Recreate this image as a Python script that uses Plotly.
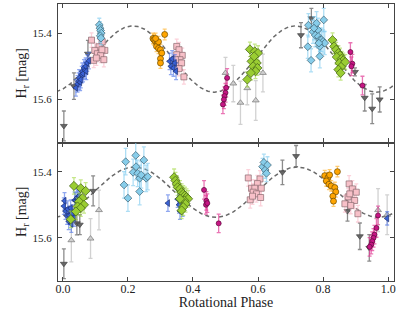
import plotly.graph_objects as go
from plotly.subplots import make_subplots
import numpy as np

# ---------------- data: top panel ----------------
t_blue_ph = [0.040, 0.045, 0.048, 0.050, 0.053, 0.055, 0.058, 0.060, 0.062, 0.065, 0.068, 0.070, 0.072, 0.075, 0.080,
             0.328, 0.332, 0.336, 0.340, 0.344, 0.348]
t_blue_m = [15.565, 15.553, 15.545, 15.535, 15.548, 15.540, 15.525, 15.515, 15.522, 15.505, 15.512, 15.500, 15.515, 15.490, 15.483,
            15.485, 15.500, 15.478, 15.505, 15.490, 15.515]
t_blue_e = [0.025] * 21

t_cyan_ph = [0.112, 0.114, 0.116, 0.118, 0.115, 0.117,
             0.755, 0.753, 0.763, 0.769, 0.776, 0.780, 0.784, 0.785, 0.790, 0.790, 0.790, 0.795, 0.800, 0.802, 0.805, 0.772, 0.787]
t_cyan_m = [15.375, 15.385, 15.392, 15.400, 15.408, 15.415,
            15.376, 15.441, 15.482, 15.396, 15.406, 15.370, 15.390, 15.410, 15.420, 15.440, 15.470, 15.420, 15.425, 15.360, 15.430, 15.385, 15.430]
t_cyan_e = [0.02] * 6 + [0.035] * 17

t_pink_ph = [0.088, 0.121, 0.111, 0.098, 0.129, 0.106, 0.116, 0.126, 0.095, 0.103, 0.120,
             0.350, 0.357, 0.367, 0.350, 0.360, 0.357, 0.365, 0.346, 0.357, 0.372]
t_pink_m = [15.421, 15.426, 15.441, 15.452, 15.452, 15.462, 15.467, 15.480, 15.482, 15.475, 15.450,
            15.440, 15.450, 15.467, 15.465, 15.480, 15.490, 15.490, 15.480, 15.507, 15.532]
t_pink_e = [0.022] * 21

t_orange_ph = [0.313, 0.277, 0.280, 0.285, 0.290, 0.288, 0.294, 0.300, 0.304, 0.300, 0.300, 0.294, 0.285]
t_orange_m = [15.404, 15.416, 15.420, 15.426, 15.430, 15.440, 15.446, 15.450, 15.460, 15.477, 15.490, 15.426, 15.416]
t_orange_e = [0.016] * 13

t_mag_ph = [0.505, 0.502, 0.500, 0.497, 0.495, 0.492, 0.884, 0.890, 0.887, 0.921]
t_mag_m = [15.535, 15.565, 15.580, 15.590, 15.600, 15.615, 15.457, 15.492, 15.500, 15.558]
t_mag_e = [0.028] * 10

t_green_ph = [0.575, 0.590, 0.600, 0.580, 0.596, 0.585, 0.598, 0.592, 0.578, 0.567, 0.588,
              0.829, 0.834, 0.840, 0.847, 0.852, 0.842, 0.857, 0.862, 0.850, 0.857, 0.847, 0.854, 0.868]
t_green_m = [15.449, 15.455, 15.460, 15.485, 15.490, 15.500, 15.505, 15.515, 15.520, 15.540, 15.470,
             15.421, 15.440, 15.450, 15.460, 15.467, 15.472, 15.477, 15.482, 15.490, 15.500, 15.510, 15.520, 15.487]
t_green_e = [0.022] * 24

t_gdown_ph = [0.003, 0.034, 0.077, 0.732, 0.764, 0.898, 0.928, 0.951, 0.974]
t_gdown_m = [15.680, 15.560, 15.462, 15.406, 15.355, 15.517, 15.595, 15.628, 15.600]
t_gdown_e = [0.045, 0.040, 0.040, 0.038, 0.030, 0.012, 0.040, 0.045, 0.038]

t_gup_ph = [0.500, 0.524, 0.546, 0.567, 0.593, 0.615]
t_gup_m = [15.520, 15.552, 15.610, 15.566, 15.603, 15.520]
t_gup_e = [0.047, 0.055, 0.065, 0.050, 0.060, 0.057]

# ---------------- data: bottom panel ----------------
b_blue_ph = [0.003, 0.005, 0.008, 0.013, 0.015, 0.018, 0.020, 0.024, 0.026, 0.029, 0.034, 0.036, 0.039, 0.044, 0.046, 0.049,
             0.323, 0.353, 0.357, 0.360, 0.364, 0.368, 0.997]
b_blue_m = [15.504, 15.488, 15.519, 15.534, 15.513, 15.550, 15.533, 15.510, 15.558, 15.525, 15.540, 15.486, 15.488, 15.478, 15.483, 15.473,
            15.495, 15.483, 15.500, 15.519, 15.490, 15.510, 15.541]
b_blue_e = [0.025] * 22 + [0.02]

b_cyan_ph = [0.193, 0.188, 0.200, 0.224, 0.216, 0.225, 0.230, 0.236, 0.241, 0.249, 0.256, 0.236, 0.261,
             0.614, 0.618, 0.622, 0.626, 0.629]
b_cyan_m = [15.370, 15.440, 15.480, 15.351, 15.402, 15.385, 15.405, 15.420, 15.410, 15.365, 15.420, 15.460, 15.415,
            15.385, 15.372, 15.395, 15.405, 15.380]
b_cyan_e = [0.04] * 13 + [0.025] * 5

b_pink_ph = [0.570, 0.606, 0.598, 0.580, 0.590, 0.610, 0.585, 0.595, 0.608, 0.576, 0.583,
             0.880, 0.890, 0.902, 0.877, 0.897, 0.867, 0.885, 0.907, 0.882]
b_pink_m = [15.419, 15.422, 15.436, 15.450, 15.450, 15.450, 15.462, 15.467, 15.478, 15.485, 15.474,
            15.437, 15.452, 15.462, 15.476, 15.487, 15.497, 15.502, 15.527, 15.467]
b_pink_e = [0.025] * 20

b_orange_ph = [0.844, 0.805, 0.815, 0.820, 0.810, 0.818, 0.825, 0.836, 0.839, 0.830, 0.832]
b_orange_m = [15.400, 15.412, 15.418, 15.410, 15.428, 15.438, 15.443, 15.448, 15.461, 15.474, 15.489]
b_orange_e = [0.016] * 11

b_mag_ph = [0.434, 0.441, 0.440, 0.444, 0.479, 0.969, 0.964, 0.958, 0.955, 0.951, 0.948, 0.943]
b_mag_m = [15.455, 15.488, 15.500, 15.495, 15.556, 15.532, 15.570, 15.590, 15.600, 15.610, 15.620, 15.627]
b_mag_e = [0.028] * 12

b_green_ph = [0.034, 0.055, 0.070, 0.060, 0.050, 0.065, 0.045, 0.055, 0.024, 0.040,
              0.342, 0.346, 0.350, 0.353, 0.360, 0.365, 0.370, 0.375, 0.380, 0.385, 0.373, 0.377, 0.370, 0.365, 0.360]
b_green_m = [15.443, 15.450, 15.458, 15.480, 15.490, 15.500, 15.505, 15.510, 15.544, 15.520,
             15.417, 15.427, 15.437, 15.447, 15.452, 15.462, 15.467, 15.472, 15.477, 15.482, 15.487, 15.497, 15.507, 15.517, 15.482]
b_green_e = [0.025] * 25

b_gdown_ph = [0.003, 0.043, 0.052, 0.093, 0.675, 0.717, 0.875, 0.913, 0.942]
b_gdown_m = [15.678, 15.556, 15.560, 15.458, 15.402, 15.353, 15.519, 15.595, 15.630]
b_gdown_e = [0.045, 0.035, 0.030, 0.045, 0.037, 0.032, 0.030, 0.040, 0.040]

b_gup_ph = [0.026, 0.085, 0.111, 0.969, 0.997]
b_gup_m = [15.607, 15.602, 15.516, 15.516, 15.530]
b_gup_e = [0.065, 0.060, 0.060, 0.065, 0.060]

# model curve parameters (double-peaked sinusoid)
top_model = dict(mean=15.478, amp=0.100, peak=0.215)
bot_model = dict(mean=15.462, amp=0.076, peak=0.220)

fig = make_subplots(rows=2, cols=1, shared_xaxes=True, vertical_spacing=0)

styles = {
    'gup': dict(symbol='triangle-up', color='#cfcfcf', line='#777777', size=6, err='rgba(190,190,190,0.7)'),
    'gdown': dict(symbol='triangle-down', color='#666666', line='#444444', size=6, err='rgba(100,100,100,0.75)'),
    'pink': dict(symbol='square', color='#f7c0c8', line='#8a6a70', size=6, err='rgba(250,180,195,0.6)'),
    'blue': dict(symbol='triangle-left', color='#3a62d6', line='#1c2f70', size=6, err='rgba(70,110,230,0.6)'),
    'cyan': dict(symbol='diamond', color='#87cdea', line='#3b5f70', size=6, err='rgba(130,205,240,0.65)'),
    'orange': dict(symbol='circle', color='#ffa500', line='#6b4a00', size=6, err='rgba(255,170,20,0.6)'),
    'green': dict(symbol='diamond', color='#9acd32', line='#3d5a14', size=7, err='rgba(160,215,60,0.6)'),
    'mag': dict(symbol='circle', color='#c71585', line='#5a0a3a', size=5, err='rgba(225,60,150,0.7)'),
}


def add(ph, m, e, key, row):
    s = styles[key]
    fig.add_trace(go.Scatter(
        x=ph, y=m, mode='markers',
        error_y=dict(type='data', array=e, visible=True, color=s['err'], thickness=1.3, width=2),
        marker=dict(symbol=s['symbol'], size=s['size'], color=s['color'],
                    line=dict(color=s['line'], width=0.7)),
        showlegend=False), row=row, col=1)


def model_curve(p, row):
    ph = np.linspace(-0.02, 1.02, 300)
    mag = p['mean'] - p['amp'] * np.cos(4 * np.pi * (ph - p['peak']))
    fig.add_trace(go.Scatter(x=ph, y=mag, mode='lines',
                             line=dict(color='#6a6a6a', width=1.5, dash='4px,3px'),
                             showlegend=False), row=row, col=1)


model_curve(top_model, 1)
add(t_gup_ph, t_gup_m, t_gup_e, 'gup', 1)
add(t_gdown_ph, t_gdown_m, t_gdown_e, 'gdown', 1)
add(t_pink_ph, t_pink_m, t_pink_e, 'pink', 1)
add(t_blue_ph, t_blue_m, t_blue_e, 'blue', 1)
add(t_cyan_ph, t_cyan_m, t_cyan_e, 'cyan', 1)
add(t_orange_ph, t_orange_m, t_orange_e, 'orange', 1)
add(t_green_ph, t_green_m, t_green_e, 'green', 1)
add(t_mag_ph, t_mag_m, t_mag_e, 'mag', 1)

model_curve(bot_model, 2)
add(b_gup_ph, b_gup_m, b_gup_e, 'gup', 2)
add(b_gdown_ph, b_gdown_m, b_gdown_e, 'gdown', 2)
add(b_pink_ph, b_pink_m, b_pink_e, 'pink', 2)
add(b_blue_ph, b_blue_m, b_blue_e, 'blue', 2)
add(b_cyan_ph, b_cyan_m, b_cyan_e, 'cyan', 2)
add(b_orange_ph, b_orange_m, b_orange_e, 'orange', 2)
add(b_green_ph, b_green_m, b_green_e, 'green', 2)
add(b_mag_ph, b_mag_m, b_mag_e, 'mag', 2)

serif = 'Liberation Serif, Times New Roman, serif'
font = dict(family=serif, size=12, color='#222222')
axcommon = dict(showline=True, linecolor='#444444', linewidth=1.2, mirror='ticks',
                ticks='inside', ticklen=4, tickcolor='#444444', showgrid=False, zeroline=False,
                automargin=False)

fig.update_xaxes(range=[-0.015, 1.018], tickvals=[0, 0.2, 0.4, 0.6, 0.8, 1.0], **axcommon)
fig.update_xaxes(showticklabels=False, row=1, col=1)
fig.update_xaxes(tickformat='.1f', ticklabelstandoff=-4,
                 title=dict(text='Rotational Phase', standoff=1), row=2, col=1)
fig.update_yaxes(range=[15.73, 15.312], tickvals=[15.4, 15.6], tickformat='.1f',
                 tickfont=dict(family=serif, size=11, color='#222222'), ticklabelstandoff=3,
                 title=dict(text='H<sub>r</sub> [mag]', standoff=2), **axcommon)
fig.update_layout(xaxis=dict(domain=[0, 1]), yaxis=dict(domain=[0.5, 1.0]),
                  yaxis2=dict(domain=[0.0, 0.5]))

fig.update_layout(width=399, height=320, margin=dict(l=58, r=5, t=4, b=39),
                  paper_bgcolor='white', plot_bgcolor='white', font=font)
fig.write_html('out.html', config={'displayModeBar': False},
               post_script="document.body.style.margin='0';document.body.style.padding='0';")
